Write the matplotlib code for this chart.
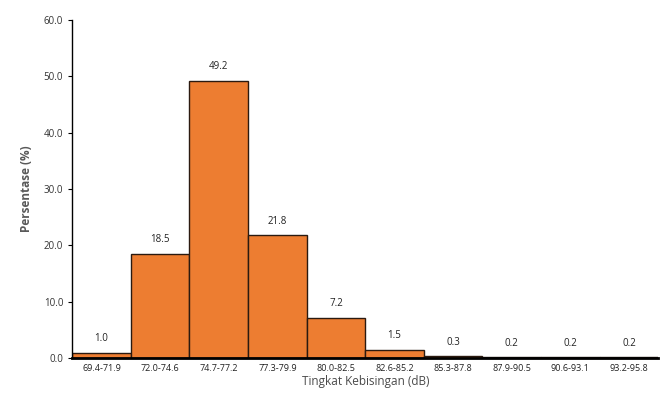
import numpy as np
import matplotlib.pyplot as plt

# kelas tingkat kebisingan dan persentase
kelas = ["69.4-71.9", "72.0-74.6", "74.7-77.2", "77.3-79.9", "80.0-82.5",
         "82.6-85.2", "85.3-87.8", "87.9-90.5", "90.6-93.1", "93.2-95.8"]
persen = [1.0, 18.5, 49.2, 21.8, 7.2, 1.5, 0.3, 0.2, 0.2, 0.2]
yticks = [0, 10, 20, 30, 40, 50, 60]

plt.rcParams['font.family'] = ['Open Sans', 'DejaVu Sans']

fig = plt.figure(figsize=(6.69, 4.15), dpi=100)
ax = fig.add_axes([0.108, 0.137, 0.876, 0.815])

x = np.arange(len(kelas))
bars = ax.bar(x, persen, width=1.0, color='#ED7D31', edgecolor='#2b1a10',
              linewidth=1.0)

for xi, v in zip(x, persen):
    ax.text(xi, v + 1.5, f"{v:.1f}", ha='center', va='bottom',
            fontsize=7, color='#222222')

ax.set_xlim(-0.5, len(kelas) - 0.5)
ax.set_ylim(0, 60)
ax.set_yticks(yticks)
ax.set_yticklabels([f"{t:.1f}" for t in yticks], fontsize=7, color='#333333')
ax.set_xticks(x)
ax.set_xticklabels(kelas, fontsize=6.5, color='#222222')
ax.tick_params(axis='x', length=0, pad=4)
ax.tick_params(axis='y', length=3, direction='out', width=0.8)

ax.spines['top'].set_visible(False)
ax.spines['right'].set_visible(False)
ax.spines['left'].set_linewidth(1.0)
ax.spines['bottom'].set_linewidth(2.0)

ax.set_xlabel("Tingkat Kebisingan (dB)", fontsize=8.5, color='#4a4a4a', labelpad=2)
ax.set_ylabel("Persentase (%)", fontsize=8.5, color='#595959', fontweight='bold',
              labelpad=8)

fig.savefig("out.png", dpi=100)
